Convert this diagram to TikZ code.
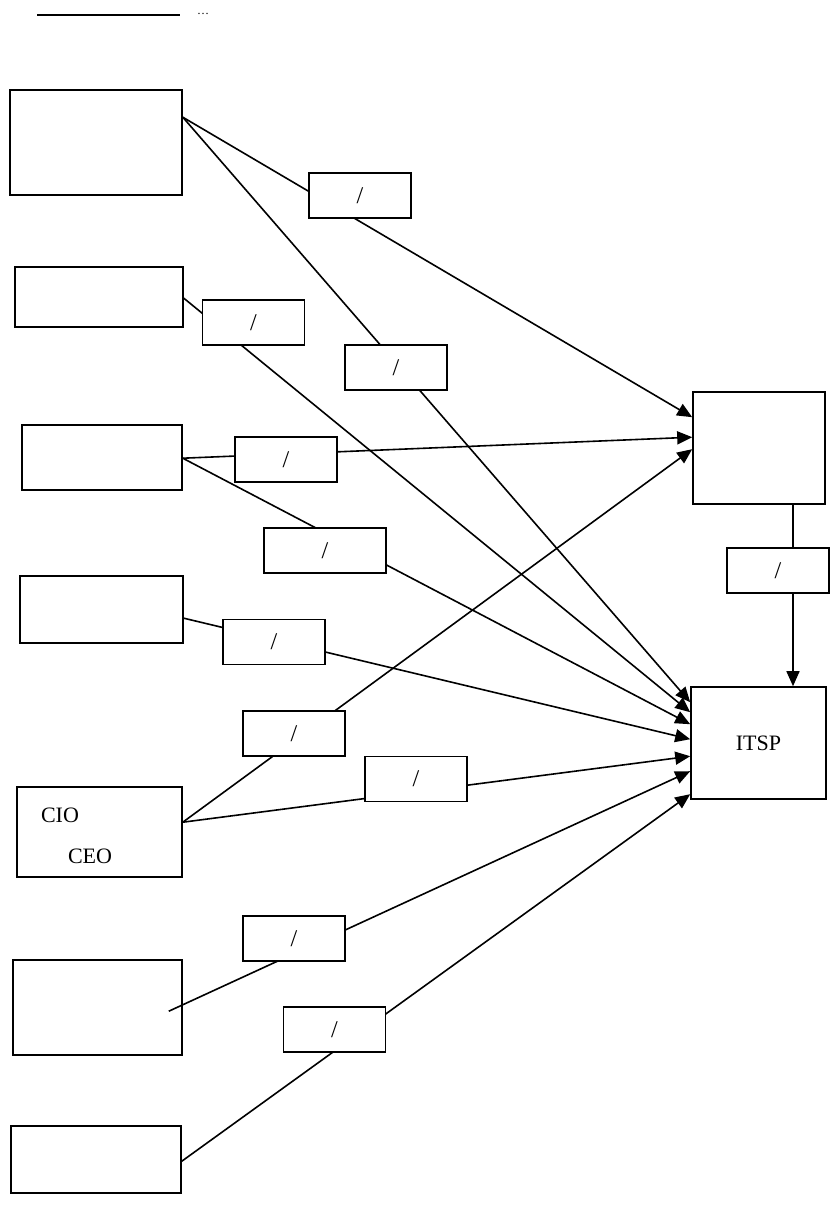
\documentclass[tikz,border=0pt]{standalone}
\usepackage{fontspec}
\setmainfont{Liberation Serif}
\usepackage{tikz}
\usetikzlibrary{arrows.meta}
\tikzstyle{box} = [rectangle, draw=black, line width=1.6pt, inner sep=0pt, fill=white, font=\fontsize{22}{26}\selectfont]
\tikzstyle{tag} = [rectangle, draw=black, line width=1.6pt, inner sep=0pt, fill=white, minimum width=102pt, minimum height=45pt, font=\fontsize{24}{28}\selectfont]
\tikzstyle{link} = [line width=1.6pt]
\tikzstyle{arrow} = [line width=1.6pt, -{Triangle[length=15pt,width=13pt]}]

\begin{document}
\begin{tikzpicture}[x=1pt, y=-1pt]
        \useasboundingbox (0,0) rectangle (833,1205);
        % header rule
        \coordinate (ruleA) at (37,15);
        \coordinate (ruleB) at (180,15);
        \draw [link] (ruleA) -- (ruleB);
        \node (dots) at (203,14) {\fontsize{12}{14}\selectfont\dots};

        % left column
        \node (src1) [box, minimum width=172pt, minimum height=105pt] at (96,142.5) {};
        \node (src2) [box, minimum width=168pt, minimum height=60pt] at (99,297) {};
        \node (src3) [box, minimum width=160pt, minimum height=65pt] at (102,457.5) {};
        \node (src4) [box, minimum width=163pt, minimum height=67pt] at (101.5,609.5) {};
        \node (src5) [box, minimum width=165pt, minimum height=90pt] at (99.5,832) {};
        \node (cio) at (60,815) {\fontsize{22}{26}\selectfont CIO};
        \node (ceo) at (90,856) {\fontsize{22}{26}\selectfont CEO};
        \node (src6) [box, minimum width=169pt, minimum height=95pt] at (97.5,1007.5) {};
        \node (src7) [box, minimum width=170pt, minimum height=67pt] at (96,1159.5) {};

        % right column
        \node (mid) [box, minimum width=132pt, minimum height=112pt] at (759,448) {};
        \node (itsp) [box, minimum width=135pt, minimum height=112pt] at (758.5,743) {ITSP};

        % connectors
        \draw [arrow] ([yshift=-28pt]src1.north east) -- ([yshift=-26pt]mid.north west);
        \draw [arrow] ([yshift=-28pt]src1.north east) -- ([yshift=-16pt]itsp.north west);
        \draw [arrow] ([yshift=-32pt]src2.north east) -- ([yshift=-26pt]itsp.north west);
        \draw [arrow] ([yshift=-34pt]src3.north east) -- ([yshift=-46pt]mid.north west);
        \draw [arrow] ([yshift=-34pt]src3.north east) -- ([yshift=-38pt]itsp.north west);
        \draw [arrow] ([yshift=-43pt]src4.north east) -- ([yshift=-53pt]itsp.north west);
        \draw [arrow] ([yshift=-36pt]src5.north east) -- ([yshift=-58pt]mid.north west);
        \draw [arrow] ([yshift=-36pt]src5.north east) -- ([yshift=-70pt]itsp.north west);
        \draw [arrow] ([xshift=-14pt, yshift=-52pt]src6.north east) -- ([yshift=-85pt]itsp.north west);
        \draw [arrow] ([yshift=-36pt]src7.north east) -- ([yshift=-108pt]itsp.north west);
        \draw [arrow] ([xshift=34pt]mid.south) -- ([xshift=34.5pt]itsp.north);

        % labels on the connectors
        \node (lab1) [tag] at (360,195.5) {/};
        \node (lab2) [tag] at (253.5,322.5) {/};
        \node (lab3) [tag] at (396,367.5) {/};
        \node (lab4) [tag] at (286,459.5) {/};
        \node (lab5) [tag, minimum width=122pt] at (325,550.5) {/};
        \node (lab6) [tag] at (274,642) {/};
        \node (lab7) [tag] at (294,733.5) {/};
        \node (lab8) [tag] at (416,779) {/};
        \node (lab9) [tag] at (294,938.5) {/};
        \node (lab10) [tag] at (334.5,1029.5) {/};
        \node (lab11) [tag] at (778,570.5) {/};
    \end{tikzpicture}
\end{document}
